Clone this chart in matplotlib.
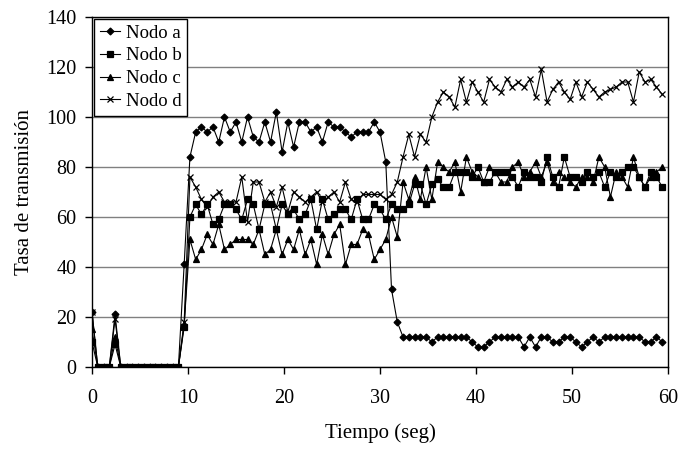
import numpy as np
import matplotlib.pyplot as plt

# muestras cada 0.6 s
t = np.arange(100) * 0.6

nodo_a = [22, 0, 0, 0, 21, 0, 0, 0, 0, 0, 0, 0, 0, 0, 0, 0, 41, 84,
          94, 96, 94, 96, 90, 100, 94, 98, 90, 100, 92, 90, 98, 90, 102, 86,
          98, 88, 98, 98, 94, 96, 90, 98, 96, 96, 94, 92, 94, 94, 94, 98, 94,
          82, 31, 18, 12, 12, 12, 12, 12, 10, 12, 12, 12, 12, 12, 12, 10, 8, 8,
          10, 12, 12, 12, 12, 12, 8, 12, 8, 12, 12, 10, 10, 12, 12, 10, 8, 10,
          12, 10, 12, 12, 12, 12, 12, 12, 12, 10, 10, 12, 10]

nodo_b = [10, 0, 0, 0, 9, 0, 0, 0, 0, 0, 0, 0, 0, 0, 0, 0, 16, 60,
          65, 61, 65, 57, 59, 65, 65, 63, 59, 67, 65, 55, 65, 65, 55, 65,
          61, 63, 59, 61, 67, 55, 67, 59, 61, 63, 63, 59, 67, 59, 59, 65, 63,
          59, 65, 63, 63, 65, 73, 73, 65, 73, 75, 72, 72, 78, 78, 78, 76, 80,
          74, 74, 78, 78, 78, 76, 72, 78, 76, 76, 74, 84, 76, 72, 84, 76, 76,
          74, 78, 76, 78, 72, 78, 76, 78, 80, 80, 76, 72, 78, 76, 72]

nodo_c = [15, 0, 0, 0, 12, 0, 0, 0, 0, 0, 0, 0, 0, 0, 0, 0, 17, 51,
          43, 47, 53, 49, 57, 47, 49, 51, 51, 51, 49, 55, 45, 47, 55, 45,
          51, 47, 55, 45, 51, 41, 53, 45, 53, 57, 41, 49, 49, 55, 53, 43, 47,
          51, 60, 52, 74, 67, 76, 67, 80, 67, 82, 80, 78, 82, 70, 84, 78, 76,
          74, 80, 78, 74, 74, 80, 82, 76, 78, 82, 76, 82, 74, 78, 76, 74, 72,
          76, 76, 74, 84, 80, 68, 78, 76, 72, 84, 76, 72, 76, 78, 80]

nodo_d = [22, 0, 0, 0, 19, 0, 0, 0, 0, 0, 0, 0, 0, 0, 0, 0, 18, 76,
          72, 67, 64, 68, 70, 66, 66, 66, 76, 58, 74, 74, 66, 70, 64, 72,
          62, 70, 68, 66, 68, 70, 66, 68, 70, 66, 74, 67, 66, 69, 69, 69, 69,
          67, 69, 74, 84, 93, 84, 93, 90, 100, 106, 110, 108, 104, 115, 106,
          114, 110, 106, 115, 112, 110, 115, 112, 114, 112, 115, 108, 119, 106,
          111, 114, 110, 107, 114, 108, 114, 111, 108, 110, 111, 112, 114, 114,
          106, 118, 114, 115, 112, 109]

series = [("Nodo a", nodo_a, "D", 3.5),
          ("Nodo b", nodo_b, "s", 4.5),
          ("Nodo c", nodo_c, "^", 5),
          ("Nodo d", nodo_d, "x", 5)]

plt.rcParams['font.family'] = ['Liberation Serif', 'DejaVu Serif']

fig = plt.figure(figsize=(6.82, 4.51), dpi=100)
ax = fig.add_axes([0.1349, 0.1863, 0.8446, 0.776])

for nombre, vals, mk, ms in series:
    ax.plot(t, vals, color='black', lw=0.8, marker=mk, markersize=ms,
            markeredgewidth=0.9, label=nombre)

ax.set_xlim(0, 60)
ax.set_ylim(0, 140)
ax.set_xticks(range(0, 61, 10))
ax.set_yticks(range(0, 141, 20))
ax.yaxis.grid(True, color='#808080', lw=1)
ax.set_axisbelow(True)
for s in ax.spines.values():
    s.set_linewidth(1)
ax.tick_params(axis='both', direction='out', length=5, width=1, labelsize=14.5)
ax.tick_params(axis='x', pad=11)
ax.tick_params(axis='y', pad=6)

ax.set_xlabel('Tiempo (seg)', fontsize=15, labelpad=11)
ax.set_ylabel('Tasa de transmisión', fontsize=15, labelpad=9)

leg = ax.legend(loc='upper left', bbox_to_anchor=(0, 1), borderaxespad=0.1,
                fontsize=13.5, fancybox=False, edgecolor='black', framealpha=1,
                handlelength=1.1, handletextpad=0.3, labelspacing=0.3,
                borderpad=0.3)
leg.get_frame().set_linewidth(1)

fig.savefig('out.png', dpi=100)
